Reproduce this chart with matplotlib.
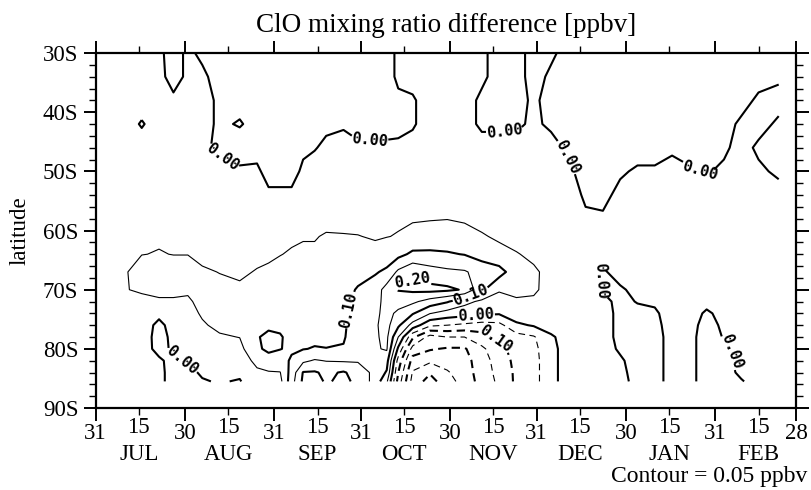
import numpy as np
import matplotlib.pyplot as plt

plt.rcParams['font.family'] = ['Liberation Serif', 'DejaVu Serif']

# grid: days after 30 Jun, latitude in degrees south
days = [10, 16, 22, 27,
        32, 37, 43, 50, 56, 60,
        64, 68, 72, 76, 80, 86, 91,
        97, 101, 105, 110, 116, 122,
        128, 134, 140, 146, 152,
        158, 164, 170, 176, 182,
        188, 194, 200, 206, 212,
        218, 224, 230, 237]
lats = [30, 34, 38, 42, 46, 50, 54, 58, 61, 64, 67, 70, 72, 74, 76, 78, 80, 82, 84, 85.5]

# ClO difference in 0.01 ppbv, one list per day column (30S ... 85.5S)
clo_jul = [
    [1, 1.5, 2, 2, 2, 2.5, 3, 3, 3, 3.5, 4.5, 4.8, 4.5, 3, 2, 2, 2, 2, 1, 1],
    [1, 1.5, 2, -0.4, 2, 2.5, 3, 3, 4, 4.9, 7, 5.5, 4, 3, 2, 2, 1.5, 1.5, 1, 1],
    [1, 1.5, 2, 2, 2, 2.5, 3, 3, 4.5, 5.2, 7, 6, 4.5, 1, -1, -1.5, -1, 0.5, 1, 1],
    [-2, -2, 1, 2, 2, 2.5, 3, 3, 4, 4.9, 7, 6, 4.5, 2, 1.5, 1, 0.5, -1, -1.5, -1.5],
]
clo_aug = [
    [1, 1, 2, 2, 2, 2.5, 3, 3, 4, 4.9, 7, 5.5, 4.5, 3.5, 3, 2, 1.5, 0.5, -1, -1.5],
    [-1, 1, 2, 2, 1, 2, 3, 3, 3.5, 4, 5.5, 6, 6, 5.5, 4.5, 3, 2, 1.5, 0.5, -0.3],
    [-2, -2, -1, -1, -1, 2, 3, 3, 3.5, 4, 4.9, 6, 6.5, 6.5, 6, 4.5, 3.5, 2, 1, 0.3],
    [-2, -2, -2, 0.5, -3, 1, 3, 3, 3.5, 4, 4.5, 5.5, 6.5, 7, 6.5, 5.1, 3.5, 2, 0.8, -0.3],
    [-2, -2, -2, -2, -2, 1, 3, 3, 3.5, 4.2, 5.2, 6.5, 7.5, 8.5, 9.3, 9.8, 9.6, 6.5, 4, 3],
    [-2, -2, -2, -2, -2, -2, 1, 3, 3.5, 4.5, 5.5, 6.5, 7.5, 8.5, 9.5, 10.6, 10.5, 9, 4.5, 3.5],
]
clo_sep = [
    [-2, -2, -2, -2, -2, -2, 1, 3.5, 4, 4.9, 6, 7, 7.5, 8.5, 9.3, 10.3, 10.1, 8.5, 4.8, 3.5],
    [-2, -2, -2, -2, -2, -2, 1, 3.5, 4.5, 5.3, 6, 7, 7.5, 8, 8.5, 9, 9.5, 10.5, 12, 13],
    [-2, -2, -2, -2, -1, 1, 3, 4, 4.8, 5.5, 6.5, 7, 7.5, 8, 8.5, 9, 9.8, 14, 20.3, 21],
    [-2, -2, -2, -2, -0.3, 2, 3, 4, 4.8, 5.5, 6, 6.5, 7, 7.5, 8, 9, 10.3, 15.5, 20.5, 21.5],
    [-2, -2, -2, -1, 1, 2, 3, 4, 5.3, 5.8, 6.3, 6.8, 7, 7.5, 8, 9, 10.1, 14.8, 19, 19.5],
    [-2, -2, -2, -0.5, 1.5, 2, 3, 4, 5.2, 6, 7, 8, 8.5, 9, 9.3, 9.6, 10.3, 14.5, 20.5, 21],
    [-2, -2, -2, -2, 1, 2, 3, 4, 5.1, 6, 8, 10.5, 11.5, 12, 12.5, 12.5, 13, 14.5, 18, 19],
]
clo_oct = [
    [-2, -2, -2, -2, 1, 2, 3, 4, 4.7, 6, 9.5, 12.5, 13.5, 14, 14.5, 14.5, 14.5, 14, 13.5, 13],
    [-2, -2, -2, -2, 1, 2, 3, 4, 4.9, 7, 11, 17, 16.5, 16.5, 16.5, 16, 15.5, 12, 9.5, 6],
    [1, 1, -1, -1.5, 1, 2, 3, 4.5, 5.2, 8.5, 16, 20.3, 17, 14, 11, 5, -1, -7, -10, -12],
    [2, 1.5, -0.5, -0.5, 1.5, 2, 3, 4.7, 6, 11, 19, 21, 16, 10.5, 3, -9, -17, -22, -25.5, -27],
    [1, 1.5, 2, 2, 2, 2.5, 3, 4.8, 6.5, 11, 17, 21.5, 13, 5.2, -4, -17, -19.5, -24, -29.5, -32],
    [1, 1.5, 2, 2, 2, 2.5, 3, 4.9, 7, 10.5, 16, 21, 10.5, 3, -5, -15, -20.5, -23, -25.5, -27],
]
clo_nov = [
    [1, 1.5, 2, 2, 2, 2.5, 3, 4.5, 6.5, 9.8, 15.5, 19.5, 6.5, 2, -6, -15, -20.5, -22, -22.5, -23],
    [1, 1, -1, -1, 2, 2.5, 3, 4, 5.3, 8, 13, 11, 4, 1, -7, -12, -16, -17, -17.5, -18],
    [-2, -2, -2, -1, 2, 2.5, 3, 3.5, 4.5, 6, 12, 5.5, 3, 0.5, -6.5, -9, -11.5, -13, -13.5, -14],
    [-2, -2, -2, -1, 2, 2.5, 3, 3, 3.8, 5.2, 7, 6, 4.5, 3, -1, -7, -8, -8.5, -9, -9],
    [2, 2, 1, 1, 2, 2.5, 3, 3, 3.5, 4.3, 5.5, 5.5, 4.5, 2.5, 0.5, -5.5, -6.5, -7, -7, -7],
]
clo_dec = [
    [1, -1, -2, -1, 2, 2.5, 3, 3, 3.2, 3.5, 4, 3.8, 3, 2.5, 1.5, -0.5, -1, -1, -1, -1],
    [-2, -2, -2, -2, -1, 1, 3, 2.5, 3, 3, 3, 3, 2.5, 2, 2, 1.5, 1.5, 1.5, 1.5, 1.5],
    [-2, -2, -2, -2, -2, -2, -1, 1, 2, 2.5, 2.5, 2.5, 2.5, 2, 2, 2, 2, 2, 2, 2],
    [-2, -2, -2, -2, -2, -2, -2, 1, 2, 1.5, -0.5, -0.3, 1, 1.5, 1.5, 1.5, 1.5, 1.5, 1.5, 1.5],
    [-2, -2, -2, -2, -2, -1, 2, 2.5, 2, 2, 1.5, -0.5, -1, -1, -1, -1, -0.5, 0.5, 1, 1],
]
clo_jan = [
    [-2, -2, -2, -2, -3, 1, 2.5, 2.5, 2.5, 2, 1.5, 1, 0.2, -1, -1.5, -1.5, -1.5, -1.5, -1.5, -1],
    [-2, -2, -2, -2, -3, 1, 2.5, 2.5, 2.5, 2, 1.5, 1, 0.5, -0.5, -1, -1, -1, -1, -1, -1],
    [-2, -2, -2, -2, -1, 2, 2.5, 2.5, 2.5, 2.5, 2, 2, 1.5, 1.5, 1.5, 1, 1, 1, 1, 1],
    [-2, -2, -2, -2, -3, 1, 2, 2, 2.5, 2.5, 2.5, 2, 2, 1.5, 1, 1, 1, 1, 1, 1],
    [-2, -2, -2, -2, -2, -0.5, 2, 2, 2.5, 2.5, 2, 1.5, 1, -0.5, -1, -1.5, -1.5, -1.5, -1.5, -1.5],
]
clo_feb = [
    [-2, -2, -2, -2, -1, 1, 2, 2, 2, 2, 2, 1.5, 1.5, 1, 0.5, 0.2, -0.8, -1, -1, -1],
    [-2, -2, -2, 1, 2, 2, 2, 2, 2, 2, 2, 2, 1.5, 1.5, 1.5, 1.5, 1, 1, 0.5, -0.2],
    [-2, -2, 1, 2, -1, 1, 2, 2, 2, 2, 2, 2, 2, 2, 2, 1.5, 1.5, 1.5, 1, 1],
    [-2, -1, 2, -1, -2, -1, 2, 2, 2, 2, 2, 2, 2, 2, 2, 1.5, 1.5, 1.5, 1, 1],
]

# axis ticks
month_ends = [0, 31, 62, 92, 123, 153, 184, 215, 243]
end_labels = ['31', '30', '31', '31', '30', '31', '30', '31', '28']
mid_days = [15, 46, 77, 107, 138, 168, 199, 230]
month_names = ['JUL', 'AUG', 'SEP', 'OCT', 'NOV', 'DEC', 'JAN', 'FEB']
lat_ticks = [30, 40, 50, 60, 70, 80, 90]

cols = clo_jul + clo_aug + clo_sep + clo_oct + clo_nov + clo_dec + clo_jan + clo_feb
z = np.array(cols, dtype=float).T / 100.0
x = np.array(days, dtype=float)
y = -np.array(lats, dtype=float)

fig = plt.figure(figsize=(8.11, 4.9), dpi=100)
ax = fig.add_axes([0.1179, 0.1673, 0.8636, 0.7245])

thick_w, thin_w = 1.5, 0.8
thin_lv = [-0.25, -0.15, -0.05, 0.05, 0.15]
ax.contour(x, y, z, levels=thin_lv, colors='k', linewidths=thin_w,
           linestyles=[(0, (6, 4)) if v < 0 else 'solid' for v in thin_lv])
ax.contour(x, y, z, levels=[-0.3, -0.2], colors='k', linewidths=thick_w,
           linestyles=[(0, (4, 2.5))])

# thick, labelled levels (one set each so clabel can place labels by hand)
label_at = {
    0.0: [(44, -47.5), (95, -44.6), (142, -43.2), (164, -47.5), (210, -49.5),
          (30, -82.0), (132, -74.4), (177, -68.5), (220, -80.5)],
    0.1: [(89, -73.5), (130, -70.8)],
    0.2: [(110, -68.3)],
    -0.1: [(138, -78.8)],
}
fmt = lambda v: f'{abs(v):.2f}'
for lv, spots in label_at.items():
    ls = (0, (4, 2.5)) if lv < 0 else 'solid'
    cs = ax.contour(x, y, z, levels=[lv], colors='k', linewidths=thick_w, linestyles=[ls])
    with plt.rc_context({'font.family': 'DejaVu Sans Mono', 'font.weight': 'bold'}):
        ax.clabel(cs, fmt=fmt, fontsize=11, inline_spacing=2, manual=spots)

ax.set_xlim(0, 243)
ax.set_ylim(-90, -30)
ax.set_xticks(month_ends, end_labels)
ax.set_xticks(mid_days, ['15'] * len(mid_days), minor=True)
ax.set_yticks([-v for v in lat_ticks], [f'{v}S' for v in lat_ticks])
ax.set_yticks(np.arange(-90, -29, 2), minor=True)
ax.tick_params(which='both', direction='out', top=True, right=True,
               labelsize=16.5, width=1.4)
ax.tick_params(which='major', length=9)
ax.tick_params(which='minor', length=5, width=1.0)
ax.tick_params(axis='x', which='both', pad=1.5)
for s in ax.spines.values():
    s.set_linewidth(1.6)

# month names on a second row below the day numbers
for d, m in zip(mid_days, month_names):
    ax.text(d, -0.1465, m, transform=ax.get_xaxis_transform(), ha='center',
            va='baseline', fontsize=16.5)

ax.set_ylabel('latitude', fontsize=16.5, labelpad=9)
ax.set_title('ClO mixing ratio difference [ppbv]', fontsize=19.5, pad=15)
fig.text(0.996, 0.016, 'Contour = 0.05 ppbv', ha='right', va='baseline', fontsize=17)

fig.savefig('out.png', dpi=100)
